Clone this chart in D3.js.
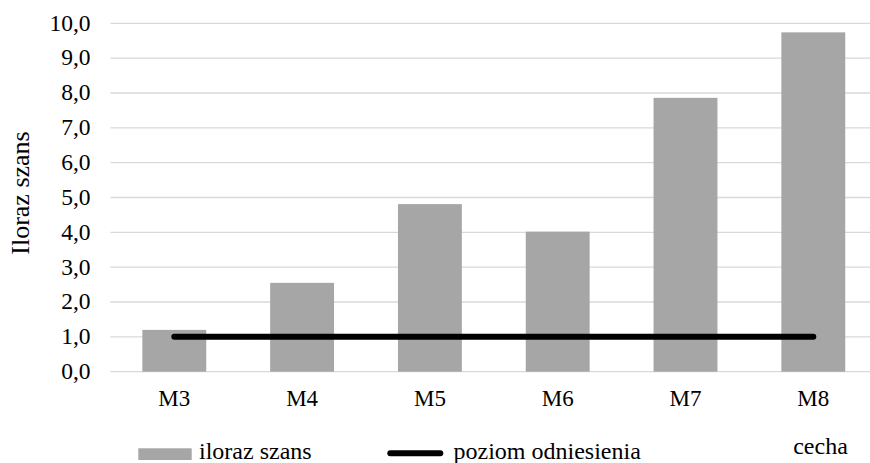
<!DOCTYPE html>
<html><head><meta charset="utf-8">
<script src="https://cdn.jsdelivr.net/npm/d3@7/dist/d3.min.js"></script>
<style>body{margin:0;background:#fff}svg{display:block}text{font-family:"Liberation Serif","Times New Roman",Tinos,"DejaVu Serif",serif !important;fill:#000}</style>
</head><body>
<script>
const categories = ["M3","M4","M5","M6","M7","M8"];
const oddsRatio = [1.2, 2.55, 4.81, 4.02, 7.86, 9.74];
const reference = [1, 1, 1, 1, 1, 1];
const yTicks = [0,1,2,3,4,5,6,7,8,9,10];
const seriesNames = ["iloraz szans", "poziom odniesienia"];
const yTitle = "Iloraz szans";
const xTitle = "cecha";

const W = 870, H = 463;
const svg = d3.select("body").append("svg").attr("width", W).attr("height", H);
const left = 110.4, step = 127.8;
const x = d3.scaleBand().domain(categories).range([left, left + step*categories.length]).paddingInner(0.5).paddingOuter(0.25);
const y = d3.scaleLinear().domain([0,10]).range([371.7, 23.3]);
const fmt = v => d3.format(".1f")(v).replace(".", ",");

// gridlines
svg.append("g").selectAll("line").data(yTicks).join("line")
  .attr("x1", left).attr("x2", W).attr("y1", d => y(d)).attr("y2", d => y(d))
  .attr("stroke", "#d9d9d9").attr("stroke-width", 1.3);

// y axis labels
const yAxis = d3.axisLeft(y).tickValues(yTicks).tickFormat(fmt).tickSize(0).tickPadding(0);
const ya = svg.append("g").attr("transform", `translate(90.5,0)`).call(yAxis);
ya.select(".domain").remove();
ya.selectAll("text").attr("font-size", 23.5).attr("fill", "#000").attr("dy", "0.29em");

// bars
svg.append("g").selectAll("rect").data(categories).join("rect")
  .attr("x", d => x(d)).attr("width", x.bandwidth())
  .attr("y", (d,i) => y(oddsRatio[i])).attr("height", (d,i) => y(0) - y(oddsRatio[i]))
  .attr("fill", "#a6a6a6");

// reference line
svg.append("path").datum(reference)
  .attr("d", d3.line().x((d,i) => x(categories[i]) + x.bandwidth()/2).y(d => y(d)))
  .attr("fill", "none").attr("stroke", "#000").attr("stroke-width", 6).attr("stroke-linecap", "round");

// x axis labels
const xAxis = d3.axisBottom(x).tickSize(0).tickPadding(0);
const xa = svg.append("g").attr("transform", `translate(0,${y(0)})`).call(xAxis);
xa.select(".domain").remove();
xa.selectAll("text").attr("font-size", 23).attr("fill", "#000").attr("dy", null).attr("y", 34);

// y title
svg.append("text").attr("transform", "translate(28.5,193) rotate(-90)").attr("text-anchor", "middle")
  .attr("font-size", 26).text(yTitle);

// x title
svg.append("text").attr("x", 820.5).attr("y", 454).attr("text-anchor", "middle").attr("font-size", 24).text(xTitle);

// legend
svg.append("rect").attr("x", 138.3).attr("y", 448.3).attr("width", 53.4).attr("height", 11.7).attr("fill", "#a6a6a6");
svg.append("text").attr("x", 199).attr("y", 458.7).attr("font-size", 24).text(seriesNames[0]);
svg.append("line").attr("x1", 390.3).attr("x2", 440.3).attr("y1", 453.3).attr("y2", 453.3)
  .attr("stroke", "#000").attr("stroke-width", 6).attr("stroke-linecap", "round");
svg.append("text").attr("x", 453.5).attr("y", 458.7).attr("font-size", 24).text(seriesNames[1]);
</script>
</body></html>
